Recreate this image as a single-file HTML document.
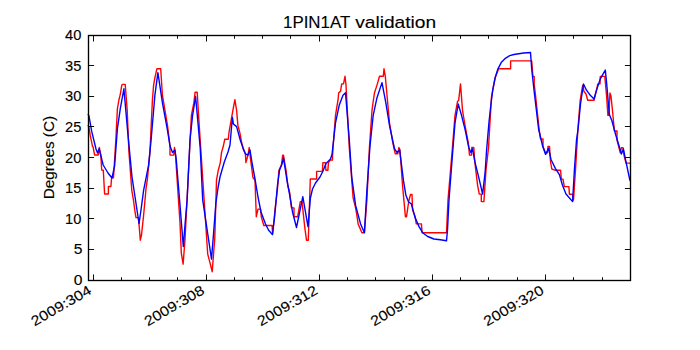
<!DOCTYPE html>
<html><head><meta charset="utf-8"><style>
html,body{margin:0;padding:0;background:#fff;width:700px;height:350px;overflow:hidden}
svg{display:block}
text{font-family:"Liberation Sans",sans-serif;fill:#000;stroke:#000;stroke-width:0.12px}
</style></head><body>
<svg width="700" height="350" viewBox="0 0 700 350">
<rect x="0" y="0" width="700" height="350" fill="#fff"/>
<defs><clipPath id="ax"><rect x="87.5" y="35.0" width="542.5" height="245.0"/></clipPath></defs>
<g clip-path="url(#ax)" fill="none" stroke-linejoin="round" stroke-linecap="butt">
<polyline stroke="#ff0000" stroke-width="1.4" points="87.5,125 88.9,127 90.3,135.7 92.5,146.3 93.1,147 94.6,155 98.3,155 99.3,147.5 100.8,155 101.7,170 103.3,170.2 104.6,194 108.4,194 108.4,186.5 110.9,186.5 111.6,177.7 113.5,177.7 116,137 117.4,108.6 118.9,100 120.3,94.3 121.7,85.7 122.2,84.4 125.2,84.4 127.2,110.3 128.9,151.4 131.8,190.3 133.5,200.3 134.8,210.4 136,217.6 138.5,217.6 140.3,240.2 141.5,235 143.6,215.4 146.1,187.8 147.3,180.2 149.9,152.6 152.4,100.2 153.6,85.1 154.9,77.6 156.9,68.8 160.7,68.8 162.4,95.2 167.5,125.4 170,146.3 170,155.1 173.7,155.1 174.5,147.5 175.5,155 180,223 181.3,252.8 183.1,264.1 185,240 190.1,140 191.4,115.3 193.9,102.7 195.1,92.2 197.2,92.2 198.9,120.3 200.7,148 207.7,254 209.7,261.6 212.2,271.7 214.8,237.7 216.5,180.2 218.3,170.2 220.3,162.6 221.5,152.6 223.3,146.3 224.8,139.2 228.3,139.2 229.1,131.7 232.9,110.3 234.9,99.7 236.6,110.3 237.9,125.4 239.9,132.9 241.7,143 243.5,150 245.4,153.8 245.9,162.6 248,155 249.2,147.5 250.5,158.9 253,177.7 255,180 256.3,216.7 258,209.1 260.5,209.1 261.3,216.7 263.8,225.5 272.1,225.5 272.6,234 275,210 277.6,187.8 278.9,170.2 281.4,165.1 282.7,155.1 283.5,155.1 284.7,162.6 286.4,172.7 287.7,185.3 289.7,192.8 291.5,207.9 294,207.9 294,216.7 297.7,216.7 299,209.1 300.3,201.6 302,201.6 304.8,227.7 306.5,240.2 308.3,240.2 310.3,179 316.6,179 316.6,171.4 322.4,171.4 322.9,162.6 325.4,162.6 325.9,170.2 327.9,170.2 328.4,162.6 330.4,160.1 332.4,160.1 333,148 335.5,115.3 336.7,107.8 338,100.2 338.7,92.7 340.5,91.4 341.7,83.9 343.5,83.9 345,76.3 346,85.1 349.3,148 353.1,197.8 355.6,207.9 356.9,215.4 358.1,223.9 361.9,232.7 364.4,232.7 366.9,200 369.4,148 372,110.3 373.2,101.5 374.5,92.7 377,85.1 379.5,76.3 383.3,76.3 384,68.8 385.3,76.3 387,95.2 389.5,122.9 392,138 393.8,147.5 395.3,153.8 397.8,153.8 398.9,147.5 400,150 402.5,185 404.6,207.9 405.4,216.7 406.5,216.7 408.8,201 410.5,194.5 412,194.5 412.6,210.1 415.1,216.4 416.3,223.9 421.4,223.9 422.1,232.7 446.5,232.7 448,200 452.4,148 455,115.3 457.5,101.5 458.7,100.2 460.5,83.9 462.5,110.3 465,125.4 468.3,143 469.5,155.1 471.5,155.1 471.8,147.5 473.8,147.5 474.6,160.1 477.6,185.3 479.3,194.1 481.3,194.1 481.3,201.6 483.9,201.6 486,170 488.5,148 491.4,97.7 493.9,83.9 495.2,77.6 497.7,71.3 498.6,68.7 510.6,68.7 510.6,60.9 531.7,60.9 532.9,76.5 534.2,76.5 534.2,84 535.5,95 539.2,130.1 540.5,138.9 543,138.9 543,146.4 545.5,152.7 547.5,152.7 548,146.4 549.5,146.4 550.5,161.5 551.8,169 555.5,170.3 560.6,170.3 561.3,179.1 563,179.1 564.3,186.6 568.9,186.6 569.4,194.2 572.4,194.2 573.5,200 575.5,170 578,128 580.2,100.3 582.7,85.2 584,91.5 586,94 587.7,100.3 594,100.3 596.5,90.2 597.8,83.9 600,83.9 600.3,76.4 604.8,76.4 606.5,95 607.9,115.4 609,115.4 609.9,93 611,96 612.6,111.7 614.4,131 617,131 617,140 620.3,152.8 621.4,147.7 623,147.7 624,155.4 626,163.1 632,163.1"/>
<polyline stroke="#0000ff" stroke-width="1.4" points="87.5,114 88.9,115.7 91.7,131.4 96,149 97.5,153 99.1,148.8 103.2,165 108,173 112,178 114.6,166 117.4,128.6 120.3,108.6 123.9,88.8 127.4,128.6 132,177 135.5,200 139,223.5 141,210 143.6,190.3 148.6,165.1 151.1,140 154.9,95.2 157.9,72.6 162.4,102.7 167.5,130.4 170,146 172.5,152.6 175,150 176.3,160 180,205 183.3,246.5 185,225 187.1,200 190,140 192.6,115.3 195.6,96.5 198.2,125.4 200.2,148 202.7,200 211.5,259.1 213.6,233 215.9,203 218,188 220,177 224.3,162 228,152 230,145 232.4,117.3 233.4,124 236.6,126.6 240.4,140.5 242.9,147.5 245.4,153.8 247.9,155.1 250,150 252,162.5 255,179 258,197 261,212 265.5,224 268.5,230 272.4,234.6 274.5,218 277.5,185 279.6,170 282,164 283.5,158 286.5,177.5 289.5,194 292.5,212 296.5,227.5 302.8,196.6 308,226.6 310.4,198 312.5,189 315.5,183 320,177 323,171 326,163.5 330.5,159 332,154.5 333.5,141 335.5,122.9 339.2,105.3 343,95.2 345.5,92.7 349.3,140 351.8,177.7 355.6,205.4 360.6,224 364.4,232.7 366.9,190.3 370,146 373.2,115.3 377,97.7 382,82.6 385.8,102.7 389.5,125.4 393,142 394.6,148.8 397.1,152.6 399.6,150 400.9,160.1 403.4,180.2 405.9,195.3 408.6,202 411.3,203.8 415.1,217.6 418.9,226.4 422.6,232.7 427.7,236.5 433.9,239 440.2,239.8 446.5,240.8 447.5,230 449,200 453,148 455,122.9 458.2,104 461.2,114.1 465,129.1 468.8,147.5 470.8,152.6 472.5,148.8 475.1,162.6 478.8,177.7 482.6,194.1 485.1,172.7 486.6,150 489,122 490.5,108 492.6,90.9 495.1,78 497.7,69.4 501.2,62.6 505.4,58.3 509.7,55.7 514,54.5 523.5,53 530.5,52.5 531.7,69 534,90 538.6,129 542.6,146 545.6,154.4 548.6,148.4 551,159.5 555.5,168.6 559.4,174.6 562.4,185 566,194 572.6,201.6 574.4,170 576.5,140 578.2,128 580.5,104 583.5,84 586.5,90.2 590.3,95.3 594,99 596.5,90.2 600.3,78.9 605.3,70.1 606.6,82.7 609.3,114.3 611.9,120.7 615.7,134.8 619.6,147.7 621.4,154.1 623.4,149 626,161.8 629.8,179.8 632,184"/>
</g>
<g stroke="#000" stroke-width="0.95"><line x1="88.5" y1="249.5" x2="94.1" y2="249.5"/><line x1="630.0" y1="249.5" x2="624.9" y2="249.5"/><line x1="88.5" y1="218.5" x2="94.1" y2="218.5"/><line x1="630.0" y1="218.5" x2="624.9" y2="218.5"/><line x1="88.5" y1="188.5" x2="94.1" y2="188.5"/><line x1="630.0" y1="188.5" x2="624.9" y2="188.5"/><line x1="88.5" y1="157.5" x2="94.1" y2="157.5"/><line x1="630.0" y1="157.5" x2="624.9" y2="157.5"/><line x1="88.5" y1="126.5" x2="94.1" y2="126.5"/><line x1="630.0" y1="126.5" x2="624.9" y2="126.5"/><line x1="88.5" y1="96.5" x2="94.1" y2="96.5"/><line x1="630.0" y1="96.5" x2="624.9" y2="96.5"/><line x1="88.5" y1="65.5" x2="94.1" y2="65.5"/><line x1="630.0" y1="65.5" x2="624.9" y2="65.5"/><line x1="93.50" y1="280.0" x2="93.50" y2="274.44"/><line x1="93.50" y1="36.0" x2="93.50" y2="41.56"/><line x1="121.50" y1="280.0" x2="121.50" y2="277.22"/><line x1="121.50" y1="36.0" x2="121.50" y2="38.78"/><line x1="149.50" y1="280.0" x2="149.50" y2="277.22"/><line x1="149.50" y1="36.0" x2="149.50" y2="38.78"/><line x1="177.50" y1="280.0" x2="177.50" y2="277.22"/><line x1="177.50" y1="36.0" x2="177.50" y2="38.78"/><line x1="206.50" y1="280.0" x2="206.50" y2="274.44"/><line x1="206.50" y1="36.0" x2="206.50" y2="41.56"/><line x1="234.50" y1="280.0" x2="234.50" y2="277.22"/><line x1="234.50" y1="36.0" x2="234.50" y2="38.78"/><line x1="262.50" y1="280.0" x2="262.50" y2="277.22"/><line x1="262.50" y1="36.0" x2="262.50" y2="38.78"/><line x1="290.50" y1="280.0" x2="290.50" y2="277.22"/><line x1="290.50" y1="36.0" x2="290.50" y2="38.78"/><line x1="319.50" y1="280.0" x2="319.50" y2="274.44"/><line x1="319.50" y1="36.0" x2="319.50" y2="41.56"/><line x1="347.50" y1="280.0" x2="347.50" y2="277.22"/><line x1="347.50" y1="36.0" x2="347.50" y2="38.78"/><line x1="375.50" y1="280.0" x2="375.50" y2="277.22"/><line x1="375.50" y1="36.0" x2="375.50" y2="38.78"/><line x1="404.50" y1="280.0" x2="404.50" y2="277.22"/><line x1="404.50" y1="36.0" x2="404.50" y2="38.78"/><line x1="432.50" y1="280.0" x2="432.50" y2="274.44"/><line x1="432.50" y1="36.0" x2="432.50" y2="41.56"/><line x1="460.50" y1="280.0" x2="460.50" y2="277.22"/><line x1="460.50" y1="36.0" x2="460.50" y2="38.78"/><line x1="488.50" y1="280.0" x2="488.50" y2="277.22"/><line x1="488.50" y1="36.0" x2="488.50" y2="38.78"/><line x1="517.50" y1="280.0" x2="517.50" y2="277.22"/><line x1="517.50" y1="36.0" x2="517.50" y2="38.78"/><line x1="545.50" y1="280.0" x2="545.50" y2="274.44"/><line x1="545.50" y1="36.0" x2="545.50" y2="41.56"/><line x1="573.50" y1="280.0" x2="573.50" y2="277.22"/><line x1="573.50" y1="36.0" x2="573.50" y2="38.78"/><line x1="602.50" y1="280.0" x2="602.50" y2="277.22"/><line x1="602.50" y1="36.0" x2="602.50" y2="38.78"/></g>
<rect x="88.5" y="35.5" width="542" height="245" fill="none" stroke="#000" stroke-width="1.35"/>
<g font-size="13.9"><text x="82.4" y="285.00" text-anchor="end" textLength="8.70" lengthAdjust="spacingAndGlyphs">0</text><text x="82.4" y="254.38" text-anchor="end" textLength="8.70" lengthAdjust="spacingAndGlyphs">5</text><text x="81.3" y="223.75" text-anchor="end" textLength="16.30" lengthAdjust="spacingAndGlyphs">10</text><text x="81.3" y="193.12" text-anchor="end" textLength="16.30" lengthAdjust="spacingAndGlyphs">15</text><text x="81.3" y="162.50" text-anchor="end" textLength="16.30" lengthAdjust="spacingAndGlyphs">20</text><text x="81.3" y="131.88" text-anchor="end" textLength="16.30" lengthAdjust="spacingAndGlyphs">25</text><text x="81.3" y="101.25" text-anchor="end" textLength="16.30" lengthAdjust="spacingAndGlyphs">30</text><text x="81.3" y="70.62" text-anchor="end" textLength="16.30" lengthAdjust="spacingAndGlyphs">35</text><text x="81.3" y="40.00" text-anchor="end" textLength="16.30" lengthAdjust="spacingAndGlyphs">40</text><text transform="translate(92.40,293.0) rotate(-30)" x="0" y="0" text-anchor="end" textLength="66.8" lengthAdjust="spacingAndGlyphs">2009:304</text><text transform="translate(205.52,293.0) rotate(-30)" x="0" y="0" text-anchor="end" textLength="66.8" lengthAdjust="spacingAndGlyphs">2009:308</text><text transform="translate(318.64,293.0) rotate(-30)" x="0" y="0" text-anchor="end" textLength="66.8" lengthAdjust="spacingAndGlyphs">2009:312</text><text transform="translate(431.76,293.0) rotate(-30)" x="0" y="0" text-anchor="end" textLength="66.8" lengthAdjust="spacingAndGlyphs">2009:316</text><text transform="translate(544.88,293.0) rotate(-30)" x="0" y="0" text-anchor="end" textLength="66.8" lengthAdjust="spacingAndGlyphs">2009:320</text></g>
<text x="283.0" y="27.8" font-size="17" textLength="67.2" lengthAdjust="spacingAndGlyphs">1PIN1AT</text>
<text x="355.2" y="27.8" font-size="17" textLength="81" lengthAdjust="spacingAndGlyphs">validation</text>
<text transform="translate(54.0,157.6) rotate(-90)" x="0" y="0" text-anchor="middle" font-size="14.2" textLength="83.5" lengthAdjust="spacingAndGlyphs">Degrees (C)</text>
</svg>
</body></html>
